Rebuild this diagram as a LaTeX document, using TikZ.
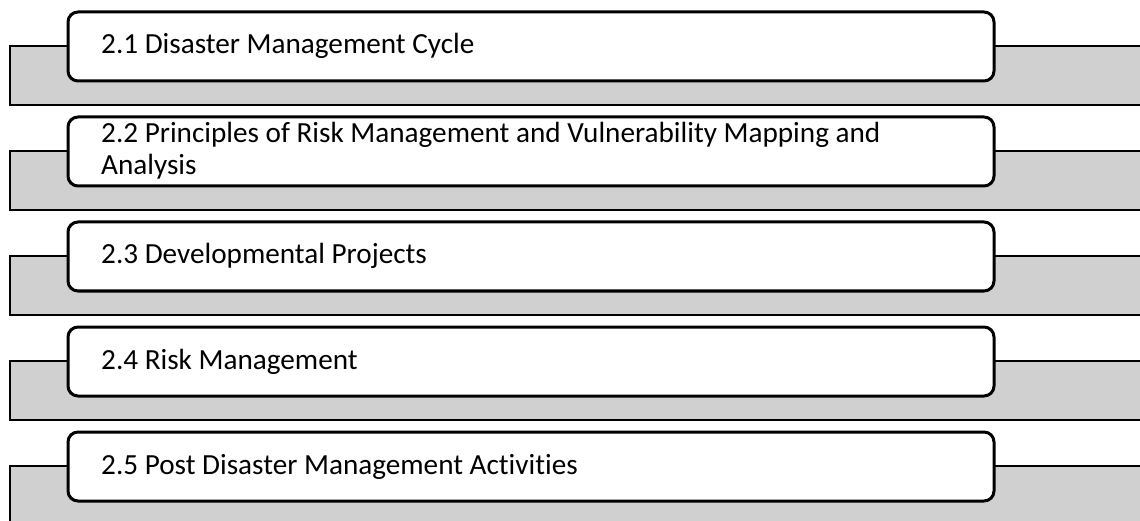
\documentclass[tikz,border=0pt]{standalone}
\usepackage{fontspec}
\setmainfont{Carlito}[Ligatures=NoCommon]
\definecolor{bandgray}{RGB}{208,208,208}
\tikzset{
  band/.style={draw=black, line width=1.5pt, fill=bandgray},
  topicbox/.style={draw=black, line width=3pt, fill=white, rounded corners=10pt},
  topictext/.style={anchor=base west, inner sep=0pt, align=left, font=\fontsize{29.2}{31}\selectfont},
}
\begin{document}
\begin{tikzpicture}[x=1pt,y=-1pt]
\useasboundingbox (0,0) rectangle (1140,521);
\clip (0,0) rectangle (1140,521);
\foreach \i in {0,...,4}{
  \pgfmathsetmacro{\top}{12+105*\i}
  \path[band] (10,\top+34) rectangle (1160,\top+93);
  \path[topicbox] (68,\top) rectangle (994,\top+69);
}
\node[topictext] (t1) at (101,54) {2.1 Disaster Management Cycle};
\node[topictext] (t2) at (101,175) {2.2 Principles of Risk Management and Vulnerability Mapping and\\[1.5pt]Analysis};
\node[topictext] (t3) at (101,264) {2.3 Developmental Projects};
\node[topictext] (t4) at (101,369) {2.4 Risk Management};
\node[topictext] (t5) at (101,474) {2.5 Post Disaster Management Activities};
\end{tikzpicture}
\end{document}
